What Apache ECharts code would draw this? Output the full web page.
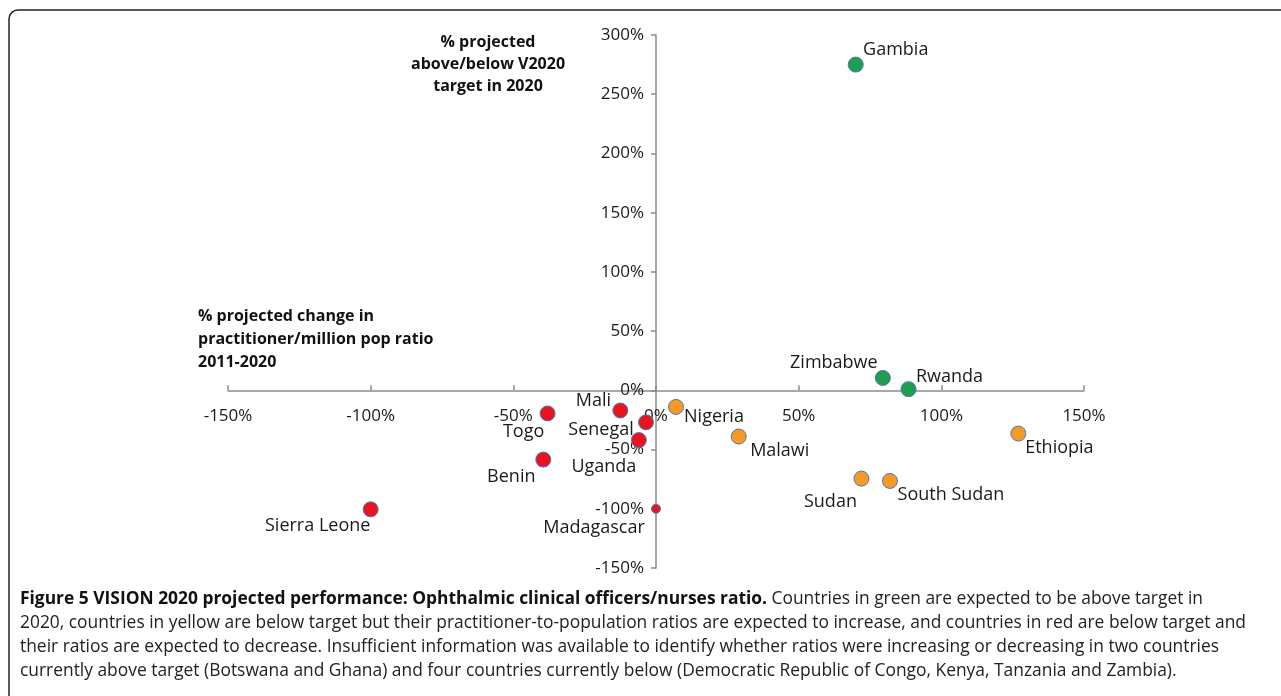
<!DOCTYPE html>
<html>
<head>
<meta charset="utf-8">
<script src="https://cdn.jsdelivr.net/npm/echarts@6/dist/echarts.min.js"></script>
<style>
html,body{margin:0;padding:0;background:#fff;}
#chart{width:1281px;height:696px;}
</style>
</head>
<body>
<div id="chart"></div>
<script>
// ---- data ----
const aboveTargetNames = ['Gambia', 'Zimbabwe', 'Rwanda'];
const aboveTargetX = [70, 79.5, 88.5];
const aboveTargetY = [275, 10.5, 1];

const increasingNames = ['Nigeria', 'Malawi', 'Ethiopia', 'Sudan', 'South Sudan'];
const increasingX = [7, 29, 127, 72, 82];
const increasingY = [-14, -39, -36.5, -74.5, -76.5];

const decreasingNames = ['Mali', 'Senegal', 'Uganda', 'Togo', 'Benin', 'Madagascar', 'Sierra Leone'];
const decreasingX = [-12.5, -3.5, -6, -38, -39.5, 0, -100];
const decreasingY = [-17, -27, -42, -19.5, -58.5, -100, -100.5];

const xTicks = { min: -150, max: 150, interval: 50 };
const yTicks = { min: -150, max: 300, interval: 50 };

const yAxisTitle = '% projected\nabove/below V2020\ntarget in 2020';
const xAxisTitle = '% projected change in\npractitioner/million pop ratio\n2011-2020';
const captionBold = 'Figure 5 VISION 2020 projected performance: Ophthalmic clinical officers/nurses ratio.';
const captionLines = [
  ' Countries in green are expected to be above target in',
  '2020, countries in yellow are below target but their practitioner-to-population ratios are expected to increase, and countries in red are below target and',
  'their ratios are expected to decrease. Insufficient information was available to identify whether ratios were increasing or decreasing in two countries',
  'currently above target (Botswana and Ghana) and four countries currently below (Democratic Republic of Congo, Kenya, Tanzania and Zambia).'
];

// ---- label placement (offset of label centre from marker centre, px) ----
const labelOffsets = {
  'Gambia': [40, -15], 'Zimbabwe': [-49, -15], 'Rwanda': [41, -12],
  'Nigeria': [38, 10], 'Malawi': [41, 14], 'Ethiopia': [41, 14],
  'Sudan': [-31, 23], 'South Sudan': [61, 14],
  'Mali': [-27, -10], 'Senegal': [-45, 8], 'Uganda': [-35, 27],
  'Togo': [-24, 18], 'Benin': [-32, 17], 'Madagascar': [-62, 19], 'Sierra Leone': [-53, 17]
};
const smallMarkers = { 'Madagascar': 9 };

const FONT = "'Open Sans', 'Noto Sans', sans-serif";
const AXIS_COLOR = '#8c8c8c';

function buildData(names, xs, ys) {
  return names.map((n, i) => {
    const d = { name: n, value: [xs[i], ys[i]], label: { offset: labelOffsets[n] || [0, 0] } };
    if (smallMarkers[n]) d.symbolSize = smallMarkers[n];
    return d;
  });
}

function seriesOf(name, names, xs, ys, color) {
  return {
    name: name,
    type: 'scatter',
    symbolSize: 15,
    itemStyle: { color: color, borderColor: '#4a78b5', borderWidth: 1, opacity: 1 },
    label: {
      show: true, position: 'inside', formatter: p => p.name,
      color: '#1a1a1a', fontSize: 18, fontFamily: FONT
    },
    emphasis: { disabled: true },
    data: buildData(names, xs, ys)
  };
}

const chart = echarts.init(document.getElementById('chart'), null, { renderer: 'canvas' });
const option = {
  animation: false,
  backgroundColor: '#fff',
  grid: { left: 228, right: 197, top: 35, bottom: 128, containLabel: false },
  xAxis: {
    type: 'value', min: xTicks.min, max: xTicks.max, interval: xTicks.interval,
    axisLine: { onZero: false, lineStyle: { color: AXIS_COLOR, width: 1.5 } },
    axisTick: { show: true, inside: true, length: 5, lineStyle: { color: AXIS_COLOR, width: 1.5 } },
    axisLabel: { formatter: '{value}%', color: '#1a1a1a', fontSize: 17, fontFamily: FONT, margin: 17 },
    splitLine: { show: false }
  },
  yAxis: {
    type: 'value', min: yTicks.min, max: yTicks.max, interval: yTicks.interval,
    axisLine: { onZero: false, lineStyle: { color: AXIS_COLOR, width: 1.5 } },
    axisTick: { show: true, inside: false, length: 5, lineStyle: { color: AXIS_COLOR, width: 1.5 } },
    axisLabel: { formatter: '{value}%', color: '#1a1a1a', fontSize: 17, fontFamily: FONT, margin: 12 },
    splitLine: { show: false }
  },
  series: [
    seriesOf('Above target', aboveTargetNames, aboveTargetX, aboveTargetY, '#1f9e4f'),
    seriesOf('Below target, increasing', increasingNames, increasingX, increasingY, '#f59b25'),
    seriesOf('Below target, decreasing', decreasingNames, decreasingX, decreasingY, '#e8151f')
  ],
  graphic: [
    {
      type: 'rect', silent: true, z: 100,
      shape: { x: 9, y: 10, width: 1400, height: 800, r: 9 },
      style: { fill: 'none', stroke: '#222', lineWidth: 1.5 }
    },
    {
      type: 'text', silent: true, x: 488, y: 31,
      style: { text: yAxisTitle, fill: '#111', font: 'bold 16px ' + FONT, textAlign: 'center', textVerticalAlign: 'top', lineHeight: 22 }
    },
    {
      type: 'text', silent: true, x: 198, y: 305,
      style: { text: xAxisTitle, fill: '#111', font: 'bold 16px ' + FONT, textAlign: 'left', textVerticalAlign: 'top', lineHeight: 23 }
    },
    {
      type: 'text', silent: true, x: 20, y: 587,
      style: {
        text: '{b|' + captionBold + '}{r|' + captionLines[0] + '}\n' + captionLines.slice(1).map(l => '{r|' + l + '}').join('\n'),
        textAlign: 'left', textVerticalAlign: 'top',
        rich: {
          b: { fontWeight: 'bold', fontSize: 17.4, fontFamily: FONT, fill: '#111', lineHeight: 24 },
          r: { fontSize: 17.4, fontFamily: FONT, fill: '#222', lineHeight: 24 }
        }
      }
    }
  ]
};
chart.setOption(option);

// Move both axes (with their labels) so they cross at the origin.
const origin = chart.convertToPixel({ gridIndex: 0 }, [0, 0]);
const gridRect = chart.getModel().getComponent('grid', 0).coordinateSystem.getRect();
chart.setOption({
  xAxis: { offset: -((gridRect.y + gridRect.height) - origin[1]) },
  yAxis: { offset: -(origin[0] - gridRect.x) }
});
</script>
</body>
</html>
